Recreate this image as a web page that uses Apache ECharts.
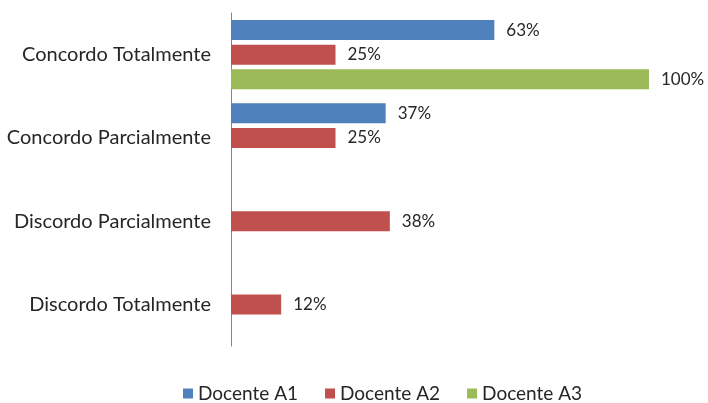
<!DOCTYPE html>
<html>
<head>
<meta charset="utf-8">
<script src="https://cdn.jsdelivr.net/npm/echarts@6/dist/echarts.min.js"></script>
<style>
html,body{margin:0;padding:0;background:#fff;}
#chart{width:708px;height:403px;}
</style>
</head>
<body>
<div id="chart"></div>
<script>
var categories = ['Concordo Totalmente', 'Concordo Parcialmente', 'Discordo Parcialmente', 'Discordo Totalmente'];
var seriesNames = ['Docente A1', 'Docente A2', 'Docente A3'];
var docenteA1 = [63, 37, 0, 0];
var docenteA2 = [25, 25, 38, 12];
var docenteA3 = [100, 0, 0, 0];
var colors = ['#4F81BD', '#C0504D', '#9BBB59'];

var FONT = 'Lato';
var TXT = '#262626';

function mk(name, data, color) {
  return {
    name: name,
    type: 'bar',
    data: data.map(function (v) { return v === 0 ? null : v; }),
    barWidth: 20,
    barGap: '23%',
    itemStyle: { color: color },
    label: {
      show: true,
      position: 'right',
      distance: 12,
      formatter: '{c}%',
      color: TXT,
      fontFamily: FONT,
      fontSize: 17
    }
  };
}

var chart = echarts.init(document.getElementById('chart'), null, { renderer: 'canvas' });
chart.setOption({
  animation: false,
  backgroundColor: '#fff',
  grid: { left: 231, right: 59, top: 13, bottom: 57, containLabel: false },
  xAxis: {
    type: 'value', min: 0, max: 100, show: false
  },
  yAxis: {
    type: 'category',
    inverse: true,
    data: categories,
    axisLine: { show: true, lineStyle: { color: '#868686', width: 1 } },
    axisTick: { show: false },
    axisLabel: { color: TXT, fontFamily: FONT, fontSize: 20, margin: 20 }
  },
  legend: {
    data: seriesNames,
    left: 183,
    top: 384,
    padding: 0,
    icon: 'rect',
    itemWidth: 10,
    itemHeight: 10,
    itemGap: 27,
    textStyle: { color: TXT, fontFamily: FONT, fontSize: 19 }
  },
  series: [
    mk(seriesNames[0], docenteA1, colors[0]),
    mk(seriesNames[1], docenteA2, colors[1]),
    mk(seriesNames[2], docenteA3, colors[2])
  ]
});
</script>
</body>
</html>
